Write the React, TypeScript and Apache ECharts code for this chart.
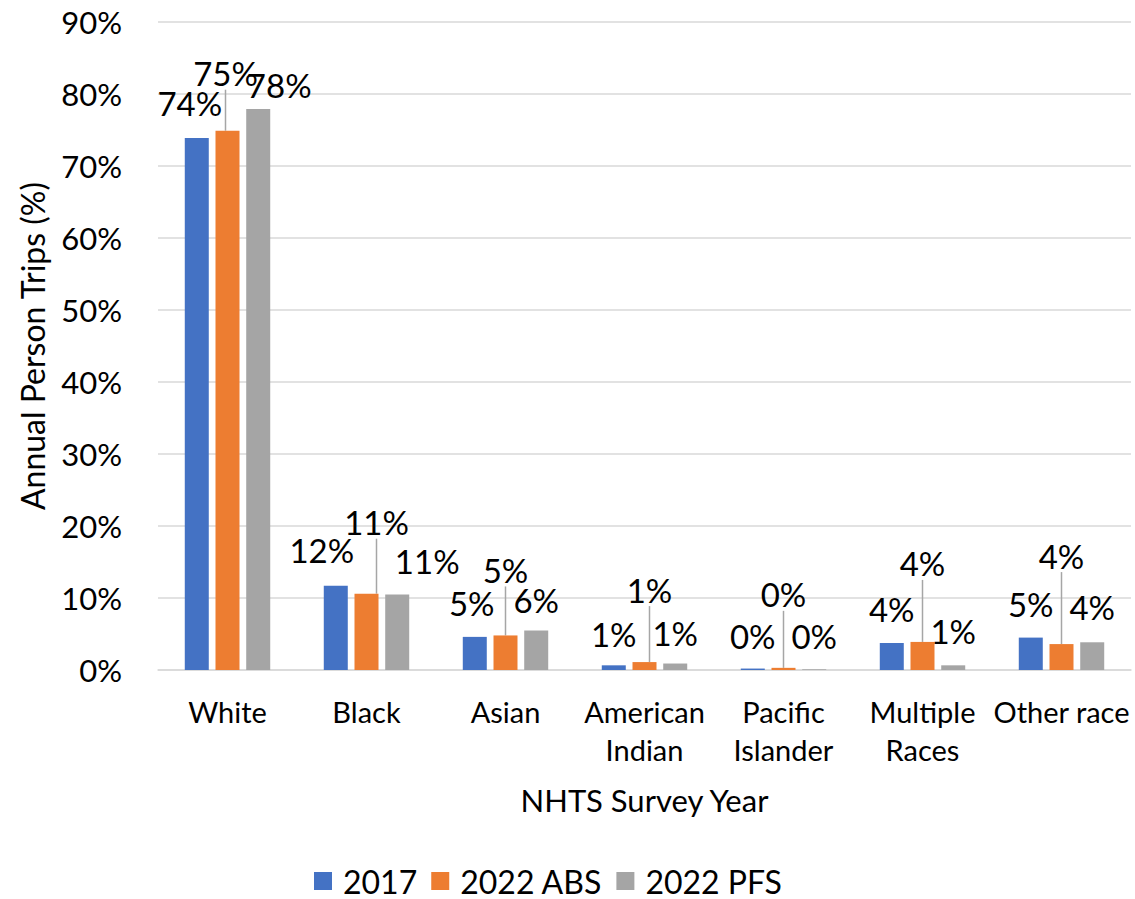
import React, { useEffect, useRef } from "react";
import * as echarts from "echarts";

const categories = ["White", "Black", "Asian", "American\nIndian", "Pacific\nIslander", "Multiple\nRaces", "Other race"];
const seriesNames = ["2017", "2022 ABS", "2022 PFS"];
const values2017 = [73.9, 11.7, 4.6, 0.65, 0.2, 3.75, 4.5];
const valuesABS = [74.9, 10.6, 4.8, 1.1, 0.3, 3.9, 3.6];
const valuesPFS = [77.9, 10.5, 5.5, 0.9, 0.1, 0.65, 3.85];
const yTicks = [0, 10, 20, 30, 40, 50, 60, 70, 80, 90];

// label displacement (layout only), per series and category
const labelShift = [
  [[-7, -13], [-14, -14], [-3, -12], [0, -10], [0, -11], [0, -13], [0, -12]],
  [[-2, -36], [10, -50], [0, -44], [5, -51], [0, -52], [0, -57], [0, -67]],
  [[21, -3], [30, -12], [0, -9], [0, -9], [0, -12], [0, -13], [0, -14]],
];

const colors = ["#4472C4", "#ED7D31", "#A5A5A5"];
const FONT = "Lato, 'Open Sans', sans-serif";

export default function App() {
  const ref = useRef<HTMLDivElement>(null);
  useEffect(() => {
    if (!ref.current) return;
    const chart = echarts.init(ref.current, null, { renderer: "svg" });
    const data = [values2017, valuesABS, valuesPFS];
    chart.setOption({
      animation: false,
      textStyle: { fontFamily: FONT, color: "#000" },
      grid: { left: 158, right: 4, top: 22, bottom: 229 },
      legend: {
        top: 865,
        left: 314,
        padding: 0,
        itemWidth: 18,
        itemHeight: 18,
        itemGap: 14,
        icon: "rect",
        textStyle: { fontSize: 32, fontFamily: FONT, color: "#000", padding: [0, 0, 0, 6], lineHeight: 32 },
        data: seriesNames,
      },
      xAxis: {
        type: "category",
        data: categories,
        axisTick: { show: false },
        axisLine: { lineStyle: { color: "#D9D9D9", width: 1.5 } },
        axisLabel: { fontSize: 29, color: "#000", margin: 22, lineHeight: 38, interval: 0 },
        name: "NHTS Survey Year",
        nameLocation: "middle",
        nameGap: 114,
        nameTextStyle: { fontSize: 31, color: "#000" },
      },
      yAxis: {
        type: "value",
        min: yTicks[0],
        max: yTicks[yTicks.length - 1],
        interval: 10,
        axisLabel: { formatter: "{value}%", fontSize: 31, color: "#000", margin: 36 },
        splitLine: { lineStyle: { color: "#D9D9D9", width: 1.5 } },
        name: "Annual Person Trips (%)",
        nameLocation: "middle",
        nameGap: 110,
        nameTextStyle: { fontSize: 32, color: "#000" },
      },
      series: seriesNames.map((name, si) => ({
        name,
        type: "bar",
        data: data[si],
        barWidth: 24,
        barGap: "28%",
        itemStyle: { color: colors[si] },
        label: {
          show: true,
          position: "top",
          fontSize: 33,
          color: "#000",
          formatter: (p: any) => Math.round(p.value) + "%",
        },
        labelLine: {
          show: si === 1,
          lineStyle: { color: "#A6A6A6", width: 1.5 },
        },
        labelLayout: (p: any) => ({
          dx: labelShift[si][p.dataIndex][0],
          dy: labelShift[si][p.dataIndex][1],
        }),
      })),
    });
    return () => chart.dispose();
  }, []);
  return (
    <div
      ref={ref}
      style={{ position: "fixed", left: 0, top: 0, width: 1135, height: 899, background: "#fff" }}
    />
  );
}
